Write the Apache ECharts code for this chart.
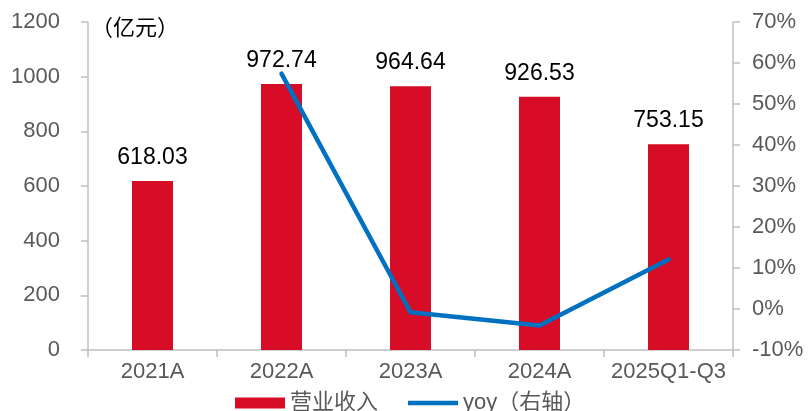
<!DOCTYPE html>
<html>
<head>
<meta charset="utf-8">
<script src="https://cdn.jsdelivr.net/npm/echarts@6/dist/echarts.min.js"></script>
<style>
  html, body { margin: 0; padding: 0; background: #fff; }
  #chart { width: 808px; height: 411px; }
</style>
</head>
<body>
<div id="chart"></div>
<script>
// Revenue (亿元) and year-over-year growth (%)
const categories = ['2021A', '2022A', '2023A', '2024A', '2025Q1-Q3'];
const revenue = [618.03, 972.74, 964.64, 926.53, 753.15];
const yoy = [null, 57.4, -0.8, -4.0, 12.1];
const leftTicks = [0, 200, 400, 600, 800, 1000, 1200];
const rightTicks = [-10, 0, 10, 20, 30, 40, 50, 60, 70];

const FONT = '"Liberation Sans", Arial, "Noto Sans CJK SC", sans-serif';
const AXIS_GRAY = '#bfbfbf';
const LABEL_GRAY = '#595959';
const BAR_RED = '#d70c26';
const LINE_BLUE = '#0070c0';

// thin horizontal stroke centred in a 50x11 legend box
const LINE_ICON = 'path://M0,0L0,0M0,3.2L50,3.2L50,7.8L0,7.8ZM50,11L50,11';

const chart = echarts.init(document.getElementById('chart'));
chart.setOption({
  animation: false,
  textStyle: { fontFamily: FONT },
  grid: { left: 88, right: 75, top: 22, bottom: 61 },
  legend: {
    top: 387,
    left: 230,
    itemGap: 30,
    itemWidth: 50,
    itemHeight: 11,
    textStyle: { fontSize: 22, color: LABEL_GRAY, fontFamily: FONT },
    data: [
      { name: '营业收入', icon: 'rect' },
      { name: 'yoy（右轴）', icon: LINE_ICON }
    ]
  },
  graphic: [{
    type: 'text',
    left: 91,
    top: 18,
    style: { text: '（亿元）', fontSize: 22, fill: '#000', fontFamily: FONT }
  }],
  xAxis: {
    type: 'category',
    data: categories,
    axisLine: { lineStyle: { color: AXIS_GRAY, width: 1.5 } },
    axisTick: { show: true, alignWithLabel: false, length: 7, lineStyle: { color: AXIS_GRAY, width: 1.5 } },
    axisLabel: { fontSize: 22, color: LABEL_GRAY, margin: 11, interval: 0 }
  },
  yAxis: [{
    type: 'value',
    min: leftTicks[0],
    max: leftTicks[leftTicks.length - 1],
    interval: 200,
    splitLine: { show: false },
    axisLine: { show: true, lineStyle: { color: AXIS_GRAY, width: 1.5 } },
    axisTick: { show: true, length: 7, lineStyle: { color: AXIS_GRAY, width: 1.5 } },
    axisLabel: { fontSize: 22, color: LABEL_GRAY, margin: 28, formatter: v => String(v) }
  }, {
    type: 'value',
    min: rightTicks[0],
    max: rightTicks[rightTicks.length - 1],
    interval: 10,
    splitLine: { show: false },
    axisLine: { show: true, lineStyle: { color: AXIS_GRAY, width: 1.5 } },
    axisTick: { show: true, length: 7, lineStyle: { color: AXIS_GRAY, width: 1.5 } },
    axisLabel: { fontSize: 22, color: LABEL_GRAY, margin: 19, formatter: v => v + '%' }
  }],
  series: [{
    name: '营业收入',
    type: 'bar',
    data: revenue,
    barWidth: 41,
    itemStyle: { color: BAR_RED },
    label: {
      show: true,
      position: 'top',
      distance: 12,
      fontSize: 23,
      color: '#000',
      formatter: p => p.value.toFixed(2)
    }
  }, {
    name: 'yoy（右轴）',
    type: 'line',
    yAxisIndex: 1,
    data: yoy,
    symbol: 'none',
    lineStyle: { color: LINE_BLUE, width: 4.5, cap: 'round', join: 'round' },
    itemStyle: { color: LINE_BLUE }
  }]
});
</script>
</body>
</html>
